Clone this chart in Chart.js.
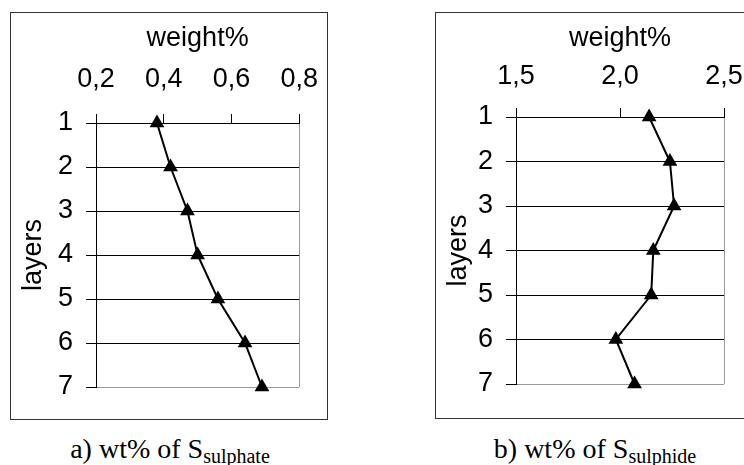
<!DOCTYPE html>
<html>
<head>
<meta charset="utf-8">
<script src="https://cdn.jsdelivr.net/npm/chart.js@4"></script>
<style>
  body { margin: 0; background: #fff; width: 744px; height: 465px; overflow: hidden; position: relative; }
  .box { position: absolute; box-sizing: border-box; border: 1px solid #333; }
  .box canvas { position: absolute; left: 0; top: 0; }
  .cap { position: absolute; top: 435px; width: 300px; text-align: center; font-family: 'Liberation Serif', 'Times New Roman', serif; font-size: 28px; line-height: 27px; color: #000; white-space: nowrap; }
  .cap sub { font-size: 20px; vertical-align: -5px; }
</style>
</head>
<body>
<div class="box" style="left:10px;top:12px;width:318px;height:408px;"><canvas id="chartA" width="325" height="408"></canvas></div>
<div class="box" style="left:435px;top:12px;width:340px;height:407px;"><canvas id="chartB" width="340" height="407"></canvas></div>
<div class="cap" style="left:20px;">a) wt% of S<sub>sulphate</sub></div>
<div class="cap" style="left:445px;">b) wt% of S<sub>sulphide</sub></div>
<script>
// layer numbers (y) and measured weight% per layer (x)
const layers = [1, 2, 3, 4, 5, 6, 7];
const sulphate = [0.38, 0.42, 0.47, 0.50, 0.56, 0.64, 0.69];
const sulphide = [2.14, 2.24, 2.26, 2.16, 2.15, 1.98, 2.07];

const xRangeA = [0.2, 0.8, 0.2];
const xRangeB = [1.5, 2.5, 0.5];

const font = { family: "'Liberation Sans', Arial, sans-serif", size: 27 };

function makeChart(id, values, xRange, axisW, axisH, padRight, padBottom, labelPad) {
    const ctx = document.getElementById(id).getContext('2d');
    return new Chart(ctx, {
        type: 'line',
        data: {
            datasets: [{
                data: layers.map((l, i) => ({ x: values[i], y: l })),
                borderColor: '#000',
                borderWidth: 2,
                backgroundColor: '#000',
                pointStyle: 'triangle',
                pointRadius: 8.5,
                pointBorderWidth: 0,
                tension: 0,
                clip: false
            }]
        },
        options: {
            responsive: false,
            animation: false,
            layout: { padding: { left: 0, top: 0, right: padRight, bottom: padBottom } },
            plugins: { legend: { display: false }, tooltip: { enabled: false } },
            scales: {
                x: {
                    type: 'linear',
                    position: 'top',
                    min: xRange[0],
                    max: xRange[1],
                    ticks: {
                        stepSize: xRange[2],
                        color: '#000',
                        font: font,
                        padding: labelPad,
                        maxRotation: 0,
                        callback: v => v.toFixed(1).replace('.', ',')
                    },
                    grid: {
                        color: c => (c.index === c.chart.scales.x.ticks.length - 1 ? '#999' : 'rgba(0,0,0,0)'),
                        tickColor: '#000',
                        tickLength: 9,
                        lineWidth: 1
                    },
                    border: { color: '#000', width: 1 },
                    title: { display: true, text: 'weight%', color: '#000', font: font, padding: { top: 9, bottom: 0 } },
                    afterFit: s => { s.height = axisH; }
                },
                y: {
                    type: 'linear',
                    position: 'left',
                    reverse: true,
                    min: 1,
                    max: 7,
                    ticks: { stepSize: 1, color: '#000', font: font, padding: 13 },
                    grid: {
                        color: c => (c.tick && c.tick.value === 7 ? '#999' : '#000'),
                        tickColor: '#000',
                        tickLength: 10,
                        lineWidth: 1
                    },
                    border: { color: '#000', width: 1 },
                    title: { display: true, text: 'layers', color: '#000', font: font, padding: { top: 6, bottom: 0 } },
                    afterFit: s => { s.width = axisW; }
                }
            }
        }
    });
}

makeChart('chartA', sulphate, xRangeA, 85, 110, 0, 34, 18);
makeChart('chartB', sulphide, xRangeB, 80, 104, 52, 36, 15);
</script>
</body>
</html>
